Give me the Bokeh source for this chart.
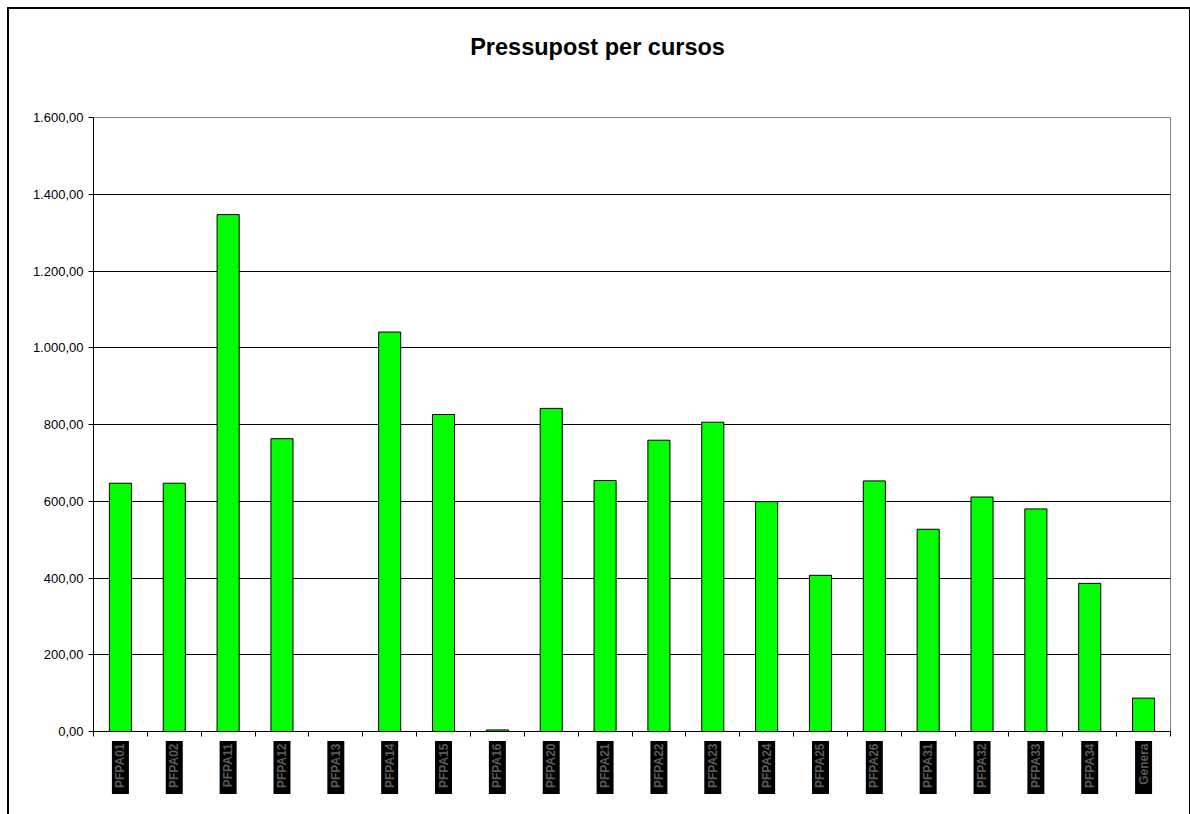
import math
from bokeh.plotting import figure
from bokeh.layouts import column
from bokeh.models import ColumnDataSource, FixedTicker, Range1d
from bokeh.core.properties import value
from bokeh.embed import file_html
from bokeh.resources import INLINE

# ---- data ----
categories = ["PFPA01", "PFPA02", "PFPA11", "PFPA12", "PFPA13", "PFPA14", "PFPA15",
              "PFPA16", "PFPA20", "PFPA21", "PFPA22", "PFPA23", "PFPA24", "PFPA25",
              "PFPA26", "PFPA31", "PFPA32", "PFPA33", "PFPA34", "Genera"]
values = [647, 647, 1347, 763, 0, 1041, 826, 4, 842, 654, 759, 806, 599, 407,
          653, 527, 611, 580, 386, 87]
y_ticks = [0, 200, 400, 600, 800, 1000, 1200, 1400, 1600]
title_text = "Pressupost per cursos"

def fmt(v):
    s = f"{v:,.2f}"
    return s.replace(",", "X").replace(".", ",").replace("X", ".")

xs = list(range(1, len(categories) + 1))
src = ColumnDataSource(dict(x=xs, top=values, cat=categories))

FONT = "Liberation Sans"
W = 1180
x_range = Range1d(0.5, len(categories) + 0.5)

# ---- title strip (its frame is aligned with the chart frame by the column) ----
t = figure(width=W, height=100, output_backend="svg", toolbar_location=None,
           x_range=Range1d(0, 1), y_range=Range1d(0, 100),
           min_border_left=0, min_border_right=0, min_border_top=0, min_border_bottom=0,
           background_fill_color="white", border_fill_color="white")
t.axis.visible = False
t.grid.grid_line_color = None
t.outline_line_color = None
t.text(x=[0.468], y=[63], text=[title_text], text_align="center", text_baseline="middle",
       text_font=value(FONT), text_font_size="23.5px", text_font_style="bold",
       text_color="black")

# ---- main chart ----
p = figure(width=W, height=630, output_backend="svg", toolbar_location=None,
           x_range=x_range, y_range=Range1d(0, 1600),
           min_border_left=84, min_border_right=19, min_border_top=8, min_border_bottom=8,
           background_fill_color="white", border_fill_color="white")
p.outline_line_color = "#808080"
p.outline_line_width = 1

p.vbar(x="x", top="top", width=0.41, source=src, fill_color="#00ff00",
       line_color="black", line_width=1)

# y axis
p.yaxis.ticker = FixedTicker(ticks=y_ticks)
p.yaxis.major_label_overrides = {t_: fmt(t_) for t_ in y_ticks}
p.yaxis.major_label_text_font = FONT
p.yaxis.major_label_text_font_size = "13px"
p.yaxis.major_label_text_color = "black"
p.yaxis.major_tick_in = 0
p.yaxis.major_tick_out = 5
p.yaxis.minor_tick_line_color = None
p.yaxis.axis_line_color = "black"
p.yaxis.major_tick_line_color = "black"
p.yaxis.major_label_standoff = 5

# x axis: only tick marks at the category boundaries
xa = p.xaxis[0]
xa.ticker = FixedTicker(ticks=[], minor_ticks=[i + 0.5 for i in range(0, len(categories) + 1)])
xa.major_tick_line_color = None
xa.major_tick_in = 0
xa.major_tick_out = 0
xa.minor_tick_in = 0
xa.minor_tick_out = 5
xa.minor_tick_line_color = "black"
xa.axis_line_color = "black"

p.xgrid.grid_line_color = None
p.ygrid.ticker = FixedTicker(ticks=y_ticks)
p.ygrid.grid_line_color = "black"
p.ygrid.grid_line_width = 1

# ---- category labels: rotated text on black boxes ----
q = figure(width=W, height=76, output_backend="svg", toolbar_location=None,
           x_range=x_range, y_range=Range1d(0, 76),
           min_border_left=84, min_border_right=19, min_border_top=0, min_border_bottom=0,
           background_fill_color="white", border_fill_color="white")
q.axis.visible = False
q.grid.grid_line_color = None
q.outline_line_color = None
q.rect(x="x", y=48, width=17, height=53, width_units="screen", height_units="screen",
       source=src, fill_color="black", line_color=None)
q.text(x="x", y=72, text="cat", source=src, angle=math.pi / 2,
       text_align="right", text_baseline="middle", text_font=value(FONT),
       text_font_size="12px", text_font_style="bold", text_color="#5a5a5a")

layout = column(t, p, q, spacing=0,
                styles={"border": "2px solid black", "margin-left": "7px", "margin-top": "7px"})

open("out.html", "w").write(file_html(layout, INLINE))
